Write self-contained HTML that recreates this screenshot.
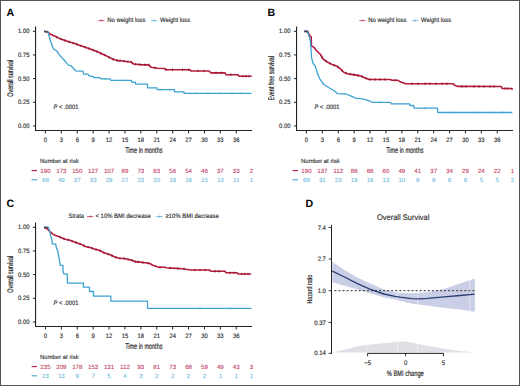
<!DOCTYPE html>
<html><head><meta charset="utf-8"><title>Figure</title>
<style>
html,body{margin:0;padding:0;background:#fff;}
body{width:520px;height:386px;overflow:hidden;font-family:"Liberation Sans", sans-serif;}
svg{display:block;}
text{text-rendering:geometricPrecision;}
</style></head><body>
<svg width="520" height="386" viewBox="0 0 520 386" font-family="&quot;Liberation Sans&quot;, sans-serif">
<rect x="0" y="0" width="520" height="386" fill="#fff"/>
<line x1="35.55" y1="26.6" x2="35.55" y2="131.05" stroke="#222" stroke-width="1.1"/>
<line x1="35" y1="130.5" x2="252" y2="130.5" stroke="#222" stroke-width="1.1"/>
<line x1="32.9" y1="125.95" x2="35.55" y2="125.95" stroke="#222" stroke-width="1.0"/>
<text x="29.4" y="128.05" font-size="6.32" text-anchor="end" fill="#333" textLength="11.39" lengthAdjust="spacingAndGlyphs" stroke="#333" stroke-width="0.16">0.00</text>
<line x1="32.9" y1="102.29" x2="35.55" y2="102.29" stroke="#222" stroke-width="1.0"/>
<text x="29.4" y="104.39" font-size="6.32" text-anchor="end" fill="#333" textLength="11.39" lengthAdjust="spacingAndGlyphs" stroke="#333" stroke-width="0.16">0.25</text>
<line x1="32.9" y1="78.62" x2="35.55" y2="78.62" stroke="#222" stroke-width="1.0"/>
<text x="29.4" y="80.72" font-size="6.32" text-anchor="end" fill="#333" textLength="11.39" lengthAdjust="spacingAndGlyphs" stroke="#333" stroke-width="0.16">0.50</text>
<line x1="32.9" y1="54.96" x2="35.55" y2="54.96" stroke="#222" stroke-width="1.0"/>
<text x="29.4" y="57.06" font-size="6.32" text-anchor="end" fill="#333" textLength="11.39" lengthAdjust="spacingAndGlyphs" stroke="#333" stroke-width="0.16">0.75</text>
<line x1="32.9" y1="31.3" x2="35.55" y2="31.3" stroke="#222" stroke-width="1.0"/>
<text x="29.4" y="33.4" font-size="6.32" text-anchor="end" fill="#333" textLength="11.39" lengthAdjust="spacingAndGlyphs" stroke="#333" stroke-width="0.16">1.00</text>
<line x1="45.45" y1="130.5" x2="45.45" y2="133.5" stroke="#222" stroke-width="1.0"/>
<text x="45.45" y="141.9" font-size="6.32" text-anchor="middle" fill="#333" textLength="3.25" lengthAdjust="spacingAndGlyphs" stroke="#333" stroke-width="0.16">0</text>
<line x1="61.35" y1="130.5" x2="61.35" y2="133.5" stroke="#222" stroke-width="1.0"/>
<text x="61.35" y="141.9" font-size="6.32" text-anchor="middle" fill="#333" textLength="3.25" lengthAdjust="spacingAndGlyphs" stroke="#333" stroke-width="0.16">3</text>
<line x1="77.25" y1="130.5" x2="77.25" y2="133.5" stroke="#222" stroke-width="1.0"/>
<text x="77.25" y="141.9" font-size="6.32" text-anchor="middle" fill="#333" textLength="3.25" lengthAdjust="spacingAndGlyphs" stroke="#333" stroke-width="0.16">6</text>
<line x1="93.15" y1="130.5" x2="93.15" y2="133.5" stroke="#222" stroke-width="1.0"/>
<text x="93.15" y="141.9" font-size="6.32" text-anchor="middle" fill="#333" textLength="3.25" lengthAdjust="spacingAndGlyphs" stroke="#333" stroke-width="0.16">9</text>
<line x1="109.05" y1="130.5" x2="109.05" y2="133.5" stroke="#222" stroke-width="1.0"/>
<text x="109.05" y="141.9" font-size="6.32" text-anchor="middle" fill="#333" textLength="6.51" lengthAdjust="spacingAndGlyphs" stroke="#333" stroke-width="0.16">12</text>
<line x1="124.95" y1="130.5" x2="124.95" y2="133.5" stroke="#222" stroke-width="1.0"/>
<text x="124.95" y="141.9" font-size="6.32" text-anchor="middle" fill="#333" textLength="6.51" lengthAdjust="spacingAndGlyphs" stroke="#333" stroke-width="0.16">15</text>
<line x1="140.85" y1="130.5" x2="140.85" y2="133.5" stroke="#222" stroke-width="1.0"/>
<text x="140.85" y="141.9" font-size="6.32" text-anchor="middle" fill="#333" textLength="6.51" lengthAdjust="spacingAndGlyphs" stroke="#333" stroke-width="0.16">18</text>
<line x1="156.75" y1="130.5" x2="156.75" y2="133.5" stroke="#222" stroke-width="1.0"/>
<text x="156.75" y="141.9" font-size="6.32" text-anchor="middle" fill="#333" textLength="6.51" lengthAdjust="spacingAndGlyphs" stroke="#333" stroke-width="0.16">21</text>
<line x1="172.65" y1="130.5" x2="172.65" y2="133.5" stroke="#222" stroke-width="1.0"/>
<text x="172.65" y="141.9" font-size="6.32" text-anchor="middle" fill="#333" textLength="6.51" lengthAdjust="spacingAndGlyphs" stroke="#333" stroke-width="0.16">24</text>
<line x1="188.55" y1="130.5" x2="188.55" y2="133.5" stroke="#222" stroke-width="1.0"/>
<text x="188.55" y="141.9" font-size="6.32" text-anchor="middle" fill="#333" textLength="6.51" lengthAdjust="spacingAndGlyphs" stroke="#333" stroke-width="0.16">27</text>
<line x1="204.45" y1="130.5" x2="204.45" y2="133.5" stroke="#222" stroke-width="1.0"/>
<text x="204.45" y="141.9" font-size="6.32" text-anchor="middle" fill="#333" textLength="6.51" lengthAdjust="spacingAndGlyphs" stroke="#333" stroke-width="0.16">30</text>
<line x1="220.35" y1="130.5" x2="220.35" y2="133.5" stroke="#222" stroke-width="1.0"/>
<text x="220.35" y="141.9" font-size="6.32" text-anchor="middle" fill="#333" textLength="6.51" lengthAdjust="spacingAndGlyphs" stroke="#333" stroke-width="0.16">33</text>
<line x1="236.25" y1="130.5" x2="236.25" y2="133.5" stroke="#222" stroke-width="1.0"/>
<text x="236.25" y="141.9" font-size="6.32" text-anchor="middle" fill="#333" textLength="6.51" lengthAdjust="spacingAndGlyphs" stroke="#333" stroke-width="0.16">36</text>
<text x="143.8" y="152.8" font-size="8.2" text-anchor="middle" fill="#222" textLength="37.3" lengthAdjust="spacingAndGlyphs" stroke="#222" stroke-width="0.17">Time in months</text>
<text x="0" y="0" font-size="8.2" text-anchor="middle" fill="#222" textLength="37" lengthAdjust="spacingAndGlyphs" transform="translate(13.2,78.2) rotate(-90)" stroke="#222" stroke-width="0.17">Overall survival</text>
<text x="6.6" y="15.7" font-size="10.6" text-anchor="start" fill="#000" font-weight="bold">A</text>
<line x1="98.3" y1="20.6" x2="104.4" y2="20.6" stroke="#b51a3a" stroke-width="0.9" opacity="0.8"/>
<line x1="101.35" y1="19.4" x2="101.35" y2="21.6" stroke="#b51a3a" stroke-width="0.7" opacity="0.8"/>
<text x="107.3" y="22.4" font-size="6.5" text-anchor="start" fill="#222" textLength="38.2" lengthAdjust="spacingAndGlyphs" stroke="#222" stroke-width="0.12">No weight loss</text>
<line x1="151.2" y1="20.6" x2="157.2" y2="20.6" stroke="#3ca2d2" stroke-width="0.9" opacity="0.8"/>
<line x1="154.2" y1="19.4" x2="154.2" y2="21.6" stroke="#3ca2d2" stroke-width="0.7" opacity="0.8"/>
<text x="160" y="22.4" font-size="6.5" text-anchor="start" fill="#222" textLength="30.2" lengthAdjust="spacingAndGlyphs" stroke="#222" stroke-width="0.12">Weight loss</text>
<text x="53.5" y="108.6" font-size="6.4" fill="#333" textLength="25.0" lengthAdjust="spacingAndGlyphs" stroke="#333" stroke-width="0.16"><tspan font-style="italic">P</tspan> &lt; .0001</text>
<line x1="44.2" y1="31.5" x2="48" y2="31.8" stroke="#5a3a4a" stroke-width="1.5"/>
<polyline points="44.2,31.2 48,32.2 50,34 55,36.2 59.4,38.4 63.7,40 68,41.6 74.8,43.6 80,45.5 86,47.5 90.2,48.9 98,52 105.5,55.4 110,57.8 113.2,59.3 116.5,60.3 118,60.6 121,60.8 128,61.7 131,62 133.7,64 140,64.6 148.7,64.9 151.2,67.3 157.5,68.3 165,68.5 165.5,69.7 190,69.8 191,71 209,71 211,72.9 225,72.9 226,74.7 238,74.7 239,76.2 251.7,76.2" fill="none" stroke="#b51a3a" stroke-width="1.6" stroke-linejoin="round"/>
<line x1="57" y1="36" x2="57" y2="38.4" stroke="#861232" stroke-width="0.9"/>
<line x1="61" y1="37.8" x2="61" y2="40.2" stroke="#861232" stroke-width="0.9"/>
<line x1="65" y1="39.28" x2="65" y2="41.68" stroke="#861232" stroke-width="0.9"/>
<line x1="69" y1="40.69" x2="69" y2="43.09" stroke="#861232" stroke-width="0.9"/>
<line x1="73" y1="41.87" x2="73" y2="44.27" stroke="#861232" stroke-width="0.9"/>
<line x1="77" y1="43.2" x2="77" y2="45.6" stroke="#861232" stroke-width="0.9"/>
<line x1="81" y1="44.63" x2="81" y2="47.03" stroke="#861232" stroke-width="0.9"/>
<line x1="85" y1="45.97" x2="85" y2="48.37" stroke="#861232" stroke-width="0.9"/>
<line x1="89" y1="47.3" x2="89" y2="49.7" stroke="#861232" stroke-width="0.9"/>
<line x1="93" y1="48.81" x2="93" y2="51.21" stroke="#861232" stroke-width="0.9"/>
<line x1="97" y1="50.4" x2="97" y2="52.8" stroke="#861232" stroke-width="0.9"/>
<line x1="101" y1="52.16" x2="101" y2="54.56" stroke="#861232" stroke-width="0.9"/>
<line x1="105" y1="53.97" x2="105" y2="56.37" stroke="#861232" stroke-width="0.9"/>
<line x1="109" y1="56.07" x2="109" y2="58.47" stroke="#861232" stroke-width="0.9"/>
<line x1="113" y1="58.01" x2="113" y2="60.41" stroke="#861232" stroke-width="0.9"/>
<line x1="117" y1="59.2" x2="117" y2="61.6" stroke="#861232" stroke-width="0.9"/>
<line x1="120" y1="59.53" x2="120" y2="61.93" stroke="#861232" stroke-width="0.9"/>
<line x1="124" y1="59.99" x2="124" y2="62.39" stroke="#861232" stroke-width="0.9"/>
<line x1="128" y1="60.5" x2="128" y2="62.9" stroke="#861232" stroke-width="0.9"/>
<line x1="131" y1="60.8" x2="131" y2="63.2" stroke="#861232" stroke-width="0.9"/>
<line x1="135.6" y1="62.98" x2="135.6" y2="65.38" stroke="#861232" stroke-width="0.9"/>
<line x1="140.6" y1="63.42" x2="140.6" y2="65.82" stroke="#861232" stroke-width="0.9"/>
<line x1="145" y1="63.57" x2="145" y2="65.97" stroke="#861232" stroke-width="0.9"/>
<line x1="148.7" y1="63.7" x2="148.7" y2="66.1" stroke="#861232" stroke-width="0.9"/>
<line x1="155" y1="66.7" x2="155" y2="69.1" stroke="#861232" stroke-width="0.9"/>
<line x1="166" y1="68.5" x2="166" y2="70.9" stroke="#861232" stroke-width="0.9"/>
<line x1="172.5" y1="68.53" x2="172.5" y2="70.93" stroke="#861232" stroke-width="0.9"/>
<line x1="182.5" y1="68.57" x2="182.5" y2="70.97" stroke="#861232" stroke-width="0.9"/>
<line x1="188.7" y1="68.59" x2="188.7" y2="70.99" stroke="#861232" stroke-width="0.9"/>
<line x1="198" y1="69.8" x2="198" y2="72.2" stroke="#861232" stroke-width="0.9"/>
<line x1="204" y1="69.8" x2="204" y2="72.2" stroke="#861232" stroke-width="0.9"/>
<line x1="216" y1="71.7" x2="216" y2="74.1" stroke="#861232" stroke-width="0.9"/>
<line x1="221" y1="71.7" x2="221" y2="74.1" stroke="#861232" stroke-width="0.9"/>
<line x1="231" y1="73.5" x2="231" y2="75.9" stroke="#861232" stroke-width="0.9"/>
<line x1="243" y1="75" x2="243" y2="77.4" stroke="#861232" stroke-width="0.9"/>
<line x1="246" y1="75" x2="246" y2="77.4" stroke="#861232" stroke-width="0.9"/>
<line x1="249" y1="75" x2="249" y2="77.4" stroke="#861232" stroke-width="0.9"/>
<polyline points="44.2,31.2 48,32.2 49.3,36.5 50.2,40 51.6,44.2 53.5,49 54.9,49.8 57.2,51.6 59.5,54.9 61.8,57.7 64.2,60 66.5,62.8 68.4,65.2 71.2,65.9 73,68 75.8,70.8 80.5,71.2 83,71.2 83.5,74 88,74.2 89,75.8 93,76.5 94,77.7 100,77.7 101,78.9 110,78.9 111,80.4 131.5,80.4 131.5,82.1 135.5,82.1 135.5,84.1 147.5,84.1 147.5,87.8 157,87.8 157,89.6 174.5,89.6 174.5,91.8 184,91.8 184,93.3 251.5,93.3" fill="none" stroke="#3ca2d2" stroke-width="1.3" stroke-linejoin="round"/>
<line x1="105" y1="78" x2="105" y2="79.8" stroke="#3ca2d2" stroke-width="0.9"/>
<line x1="125" y1="79.5" x2="125" y2="81.3" stroke="#3ca2d2" stroke-width="0.9"/>
<line x1="160" y1="88.7" x2="160" y2="90.5" stroke="#3ca2d2" stroke-width="0.9"/>
<line x1="170" y1="88.7" x2="170" y2="90.5" stroke="#3ca2d2" stroke-width="0.9"/>
<line x1="196" y1="92.4" x2="196" y2="94.2" stroke="#3ca2d2" stroke-width="0.9"/>
<line x1="208" y1="92.4" x2="208" y2="94.2" stroke="#3ca2d2" stroke-width="0.9"/>
<line x1="220" y1="92.4" x2="220" y2="94.2" stroke="#3ca2d2" stroke-width="0.9"/>
<line x1="232" y1="92.4" x2="232" y2="94.2" stroke="#3ca2d2" stroke-width="0.9"/>
<line x1="241" y1="92.4" x2="241" y2="94.2" stroke="#3ca2d2" stroke-width="0.9"/>
<line x1="44.2" y1="31.4" x2="47.8" y2="31.7" stroke="#4a3a48" stroke-width="1.3" opacity="0.85"/>
<text x="40.1" y="162.8" font-size="6.0" text-anchor="start" fill="#333" textLength="38.5" lengthAdjust="spacingAndGlyphs" stroke="#222" stroke-width="0.12">Number at risk</text>
<line x1="31.6" y1="170.6" x2="37" y2="170.6" stroke="#b51a3a" stroke-width="1.1"/>
<line x1="31.6" y1="179.8" x2="37" y2="179.8" stroke="#3ca2d2" stroke-width="1.1"/>
<text x="45.45" y="172.7" font-size="6.15" text-anchor="middle" fill="#c0335a" stroke="#c0335a" stroke-width="0.08">190</text>
<text x="45.45" y="181.9" font-size="6.15" text-anchor="middle" fill="#66b4e0" stroke="#66b4e0" stroke-width="0.05">68</text>
<text x="61.35" y="172.7" font-size="6.15" text-anchor="middle" fill="#c0335a" stroke="#c0335a" stroke-width="0.08">173</text>
<text x="61.35" y="181.9" font-size="6.15" text-anchor="middle" fill="#66b4e0" stroke="#66b4e0" stroke-width="0.05">49</text>
<text x="77.25" y="172.7" font-size="6.15" text-anchor="middle" fill="#c0335a" stroke="#c0335a" stroke-width="0.08">150</text>
<text x="77.25" y="181.9" font-size="6.15" text-anchor="middle" fill="#66b4e0" stroke="#66b4e0" stroke-width="0.05">37</text>
<text x="93.15" y="172.7" font-size="6.15" text-anchor="middle" fill="#c0335a" stroke="#c0335a" stroke-width="0.08">127</text>
<text x="93.15" y="181.9" font-size="6.15" text-anchor="middle" fill="#66b4e0" stroke="#66b4e0" stroke-width="0.05">33</text>
<text x="109.05" y="172.7" font-size="6.15" text-anchor="middle" fill="#c0335a" stroke="#c0335a" stroke-width="0.08">107</text>
<text x="109.05" y="181.9" font-size="6.15" text-anchor="middle" fill="#66b4e0" stroke="#66b4e0" stroke-width="0.05">29</text>
<text x="124.95" y="172.7" font-size="6.15" text-anchor="middle" fill="#c0335a" stroke="#c0335a" stroke-width="0.08">89</text>
<text x="124.95" y="181.9" font-size="6.15" text-anchor="middle" fill="#66b4e0" stroke="#66b4e0" stroke-width="0.05">27</text>
<text x="140.85" y="172.7" font-size="6.15" text-anchor="middle" fill="#c0335a" stroke="#c0335a" stroke-width="0.08">73</text>
<text x="140.85" y="181.9" font-size="6.15" text-anchor="middle" fill="#66b4e0" stroke="#66b4e0" stroke-width="0.05">23</text>
<text x="156.75" y="172.7" font-size="6.15" text-anchor="middle" fill="#c0335a" stroke="#c0335a" stroke-width="0.08">63</text>
<text x="156.75" y="181.9" font-size="6.15" text-anchor="middle" fill="#66b4e0" stroke="#66b4e0" stroke-width="0.05">20</text>
<text x="172.65" y="172.7" font-size="6.15" text-anchor="middle" fill="#c0335a" stroke="#c0335a" stroke-width="0.08">56</text>
<text x="172.65" y="181.9" font-size="6.15" text-anchor="middle" fill="#66b4e0" stroke="#66b4e0" stroke-width="0.05">19</text>
<text x="188.55" y="172.7" font-size="6.15" text-anchor="middle" fill="#c0335a" stroke="#c0335a" stroke-width="0.08">54</text>
<text x="188.55" y="181.9" font-size="6.15" text-anchor="middle" fill="#66b4e0" stroke="#66b4e0" stroke-width="0.05">16</text>
<text x="204.45" y="172.7" font-size="6.15" text-anchor="middle" fill="#c0335a" stroke="#c0335a" stroke-width="0.08">46</text>
<text x="204.45" y="181.9" font-size="6.15" text-anchor="middle" fill="#66b4e0" stroke="#66b4e0" stroke-width="0.05">15</text>
<text x="220.35" y="172.7" font-size="6.15" text-anchor="middle" fill="#c0335a" stroke="#c0335a" stroke-width="0.08">37</text>
<text x="220.35" y="181.9" font-size="6.15" text-anchor="middle" fill="#66b4e0" stroke="#66b4e0" stroke-width="0.05">13</text>
<text x="236.25" y="172.7" font-size="6.15" text-anchor="middle" fill="#c0335a" stroke="#c0335a" stroke-width="0.08">33</text>
<text x="236.25" y="181.9" font-size="6.15" text-anchor="middle" fill="#66b4e0" stroke="#66b4e0" stroke-width="0.05">11</text>
<text x="251.55" y="172.7" font-size="6.15" text-anchor="middle" fill="#c0335a" stroke="#c0335a" stroke-width="0.08">2</text>
<text x="251.55" y="181.9" font-size="6.15" text-anchor="middle" fill="#66b4e0" stroke="#66b4e0" stroke-width="0.05">1</text>
<line x1="296.55" y1="26.6" x2="296.55" y2="131.05" stroke="#222" stroke-width="1.1"/>
<line x1="296" y1="130.5" x2="513" y2="130.5" stroke="#222" stroke-width="1.1"/>
<line x1="293.9" y1="125.95" x2="296.55" y2="125.95" stroke="#222" stroke-width="1.0"/>
<text x="290.4" y="128.05" font-size="6.32" text-anchor="end" fill="#333" textLength="11.39" lengthAdjust="spacingAndGlyphs" stroke="#333" stroke-width="0.16">0.00</text>
<line x1="293.9" y1="102.29" x2="296.55" y2="102.29" stroke="#222" stroke-width="1.0"/>
<text x="290.4" y="104.39" font-size="6.32" text-anchor="end" fill="#333" textLength="11.39" lengthAdjust="spacingAndGlyphs" stroke="#333" stroke-width="0.16">0.25</text>
<line x1="293.9" y1="78.62" x2="296.55" y2="78.62" stroke="#222" stroke-width="1.0"/>
<text x="290.4" y="80.72" font-size="6.32" text-anchor="end" fill="#333" textLength="11.39" lengthAdjust="spacingAndGlyphs" stroke="#333" stroke-width="0.16">0.50</text>
<line x1="293.9" y1="54.96" x2="296.55" y2="54.96" stroke="#222" stroke-width="1.0"/>
<text x="290.4" y="57.06" font-size="6.32" text-anchor="end" fill="#333" textLength="11.39" lengthAdjust="spacingAndGlyphs" stroke="#333" stroke-width="0.16">0.75</text>
<line x1="293.9" y1="31.3" x2="296.55" y2="31.3" stroke="#222" stroke-width="1.0"/>
<text x="290.4" y="33.4" font-size="6.32" text-anchor="end" fill="#333" textLength="11.39" lengthAdjust="spacingAndGlyphs" stroke="#333" stroke-width="0.16">1.00</text>
<line x1="306.45" y1="130.5" x2="306.45" y2="133.5" stroke="#222" stroke-width="1.0"/>
<text x="306.45" y="141.9" font-size="6.32" text-anchor="middle" fill="#333" textLength="3.25" lengthAdjust="spacingAndGlyphs" stroke="#333" stroke-width="0.16">0</text>
<line x1="322.35" y1="130.5" x2="322.35" y2="133.5" stroke="#222" stroke-width="1.0"/>
<text x="322.35" y="141.9" font-size="6.32" text-anchor="middle" fill="#333" textLength="3.25" lengthAdjust="spacingAndGlyphs" stroke="#333" stroke-width="0.16">3</text>
<line x1="338.25" y1="130.5" x2="338.25" y2="133.5" stroke="#222" stroke-width="1.0"/>
<text x="338.25" y="141.9" font-size="6.32" text-anchor="middle" fill="#333" textLength="3.25" lengthAdjust="spacingAndGlyphs" stroke="#333" stroke-width="0.16">6</text>
<line x1="354.15" y1="130.5" x2="354.15" y2="133.5" stroke="#222" stroke-width="1.0"/>
<text x="354.15" y="141.9" font-size="6.32" text-anchor="middle" fill="#333" textLength="3.25" lengthAdjust="spacingAndGlyphs" stroke="#333" stroke-width="0.16">9</text>
<line x1="370.05" y1="130.5" x2="370.05" y2="133.5" stroke="#222" stroke-width="1.0"/>
<text x="370.05" y="141.9" font-size="6.32" text-anchor="middle" fill="#333" textLength="6.51" lengthAdjust="spacingAndGlyphs" stroke="#333" stroke-width="0.16">12</text>
<line x1="385.95" y1="130.5" x2="385.95" y2="133.5" stroke="#222" stroke-width="1.0"/>
<text x="385.95" y="141.9" font-size="6.32" text-anchor="middle" fill="#333" textLength="6.51" lengthAdjust="spacingAndGlyphs" stroke="#333" stroke-width="0.16">15</text>
<line x1="401.85" y1="130.5" x2="401.85" y2="133.5" stroke="#222" stroke-width="1.0"/>
<text x="401.85" y="141.9" font-size="6.32" text-anchor="middle" fill="#333" textLength="6.51" lengthAdjust="spacingAndGlyphs" stroke="#333" stroke-width="0.16">18</text>
<line x1="417.75" y1="130.5" x2="417.75" y2="133.5" stroke="#222" stroke-width="1.0"/>
<text x="417.75" y="141.9" font-size="6.32" text-anchor="middle" fill="#333" textLength="6.51" lengthAdjust="spacingAndGlyphs" stroke="#333" stroke-width="0.16">21</text>
<line x1="433.65" y1="130.5" x2="433.65" y2="133.5" stroke="#222" stroke-width="1.0"/>
<text x="433.65" y="141.9" font-size="6.32" text-anchor="middle" fill="#333" textLength="6.51" lengthAdjust="spacingAndGlyphs" stroke="#333" stroke-width="0.16">24</text>
<line x1="449.55" y1="130.5" x2="449.55" y2="133.5" stroke="#222" stroke-width="1.0"/>
<text x="449.55" y="141.9" font-size="6.32" text-anchor="middle" fill="#333" textLength="6.51" lengthAdjust="spacingAndGlyphs" stroke="#333" stroke-width="0.16">27</text>
<line x1="465.45" y1="130.5" x2="465.45" y2="133.5" stroke="#222" stroke-width="1.0"/>
<text x="465.45" y="141.9" font-size="6.32" text-anchor="middle" fill="#333" textLength="6.51" lengthAdjust="spacingAndGlyphs" stroke="#333" stroke-width="0.16">30</text>
<line x1="481.35" y1="130.5" x2="481.35" y2="133.5" stroke="#222" stroke-width="1.0"/>
<text x="481.35" y="141.9" font-size="6.32" text-anchor="middle" fill="#333" textLength="6.51" lengthAdjust="spacingAndGlyphs" stroke="#333" stroke-width="0.16">33</text>
<line x1="497.25" y1="130.5" x2="497.25" y2="133.5" stroke="#222" stroke-width="1.0"/>
<text x="497.25" y="141.9" font-size="6.32" text-anchor="middle" fill="#333" textLength="6.51" lengthAdjust="spacingAndGlyphs" stroke="#333" stroke-width="0.16">36</text>
<text x="404.8" y="152.8" font-size="8.2" text-anchor="middle" fill="#222" textLength="37.3" lengthAdjust="spacingAndGlyphs" stroke="#222" stroke-width="0.17">Time in months</text>
<text x="0" y="0" font-size="8.2" text-anchor="middle" fill="#222" textLength="44.5" lengthAdjust="spacingAndGlyphs" transform="translate(274.2,78.2) rotate(-90)" stroke="#222" stroke-width="0.17">Event free survival</text>
<text x="267.6" y="15.7" font-size="10.6" text-anchor="start" fill="#000" font-weight="bold">B</text>
<line x1="359.3" y1="20.6" x2="365.4" y2="20.6" stroke="#b51a3a" stroke-width="0.9" opacity="0.8"/>
<line x1="362.35" y1="19.4" x2="362.35" y2="21.6" stroke="#b51a3a" stroke-width="0.7" opacity="0.8"/>
<text x="368.3" y="22.4" font-size="6.5" text-anchor="start" fill="#222" textLength="38.2" lengthAdjust="spacingAndGlyphs" stroke="#222" stroke-width="0.12">No weight loss</text>
<line x1="412.2" y1="20.6" x2="418.2" y2="20.6" stroke="#3ca2d2" stroke-width="0.9" opacity="0.8"/>
<line x1="415.2" y1="19.4" x2="415.2" y2="21.6" stroke="#3ca2d2" stroke-width="0.7" opacity="0.8"/>
<text x="421" y="22.4" font-size="6.5" text-anchor="start" fill="#222" textLength="30.2" lengthAdjust="spacingAndGlyphs" stroke="#222" stroke-width="0.12">Weight loss</text>
<text x="314.5" y="108.6" font-size="6.4" fill="#333" textLength="25.0" lengthAdjust="spacingAndGlyphs" stroke="#333" stroke-width="0.16"><tspan font-style="italic">P</tspan> &lt; .0001</text>
<line x1="304.3" y1="31.5" x2="308.1" y2="31.8" stroke="#5a3a4a" stroke-width="1.5"/>
<polyline points="304.3,31.2 307.4,31.2 309.7,35.7 311.2,36.8 311.4,46 313.7,47.1 316,50 318.2,52.2 320.5,54.5 323.1,59 327.7,62.3 332.3,64.6 336.9,66.2 340,68.5 343.8,72.3 347.7,73.8 353.1,74.6 357.7,75.4 361.5,76.2 364.6,77.7 369.2,79.5 390,79.5 392,80.3 398,80.3 400.3,81.8 405.5,83.7 453.4,83.7 454,85 457.9,86.4 501.3,86.5 502,88.5 512,88.5 512,90" fill="none" stroke="#b51a3a" stroke-width="1.6" stroke-linejoin="round"/>
<line x1="322" y1="55.9" x2="322" y2="58.3" stroke="#861232" stroke-width="0.9"/>
<line x1="326" y1="59.88" x2="326" y2="62.28" stroke="#861232" stroke-width="0.9"/>
<line x1="330" y1="62.25" x2="330" y2="64.65" stroke="#861232" stroke-width="0.9"/>
<line x1="334" y1="63.99" x2="334" y2="66.39" stroke="#861232" stroke-width="0.9"/>
<line x1="338" y1="65.82" x2="338" y2="68.22" stroke="#861232" stroke-width="0.9"/>
<line x1="342" y1="69.3" x2="342" y2="71.7" stroke="#861232" stroke-width="0.9"/>
<line x1="346" y1="71.95" x2="346" y2="74.35" stroke="#861232" stroke-width="0.9"/>
<line x1="350" y1="72.94" x2="350" y2="75.34" stroke="#861232" stroke-width="0.9"/>
<line x1="354" y1="73.56" x2="354" y2="75.96" stroke="#861232" stroke-width="0.9"/>
<line x1="358" y1="74.26" x2="358" y2="76.66" stroke="#861232" stroke-width="0.9"/>
<line x1="362" y1="75.24" x2="362" y2="77.64" stroke="#861232" stroke-width="0.9"/>
<line x1="366" y1="77.05" x2="366" y2="79.45" stroke="#861232" stroke-width="0.9"/>
<line x1="370" y1="78.3" x2="370" y2="80.7" stroke="#861232" stroke-width="0.9"/>
<line x1="375" y1="78.3" x2="375" y2="80.7" stroke="#861232" stroke-width="0.9"/>
<line x1="380" y1="78.3" x2="380" y2="80.7" stroke="#861232" stroke-width="0.9"/>
<line x1="385" y1="78.3" x2="385" y2="80.7" stroke="#861232" stroke-width="0.9"/>
<line x1="395" y1="79.1" x2="395" y2="81.5" stroke="#861232" stroke-width="0.9"/>
<line x1="412" y1="82.5" x2="412" y2="84.9" stroke="#861232" stroke-width="0.9"/>
<line x1="418" y1="82.5" x2="418" y2="84.9" stroke="#861232" stroke-width="0.9"/>
<line x1="425" y1="82.5" x2="425" y2="84.9" stroke="#861232" stroke-width="0.9"/>
<line x1="430" y1="82.5" x2="430" y2="84.9" stroke="#861232" stroke-width="0.9"/>
<line x1="436" y1="82.5" x2="436" y2="84.9" stroke="#861232" stroke-width="0.9"/>
<line x1="442" y1="82.5" x2="442" y2="84.9" stroke="#861232" stroke-width="0.9"/>
<line x1="447" y1="82.5" x2="447" y2="84.9" stroke="#861232" stroke-width="0.9"/>
<line x1="462" y1="85.21" x2="462" y2="87.61" stroke="#861232" stroke-width="0.9"/>
<line x1="466" y1="85.22" x2="466" y2="87.62" stroke="#861232" stroke-width="0.9"/>
<line x1="474" y1="85.24" x2="474" y2="87.64" stroke="#861232" stroke-width="0.9"/>
<line x1="479" y1="85.25" x2="479" y2="87.65" stroke="#861232" stroke-width="0.9"/>
<line x1="484" y1="85.26" x2="484" y2="87.66" stroke="#861232" stroke-width="0.9"/>
<line x1="490" y1="85.27" x2="490" y2="87.67" stroke="#861232" stroke-width="0.9"/>
<line x1="494" y1="85.28" x2="494" y2="87.68" stroke="#861232" stroke-width="0.9"/>
<line x1="505" y1="87.3" x2="505" y2="89.7" stroke="#861232" stroke-width="0.9"/>
<line x1="508" y1="87.3" x2="508" y2="89.7" stroke="#861232" stroke-width="0.9"/>
<polyline points="304.3,31.2 307.4,31.2 309.1,36.3 310.5,42 311.6,57.9 313.2,63.5 315,65.8 316.5,70 318.1,75.2 320,79 321.9,82.2 324,84.5 326.5,86.2 330.4,88.5 334.2,90.8 337.3,93.6 345.8,94 351.2,96.2 355.8,98.2 362.7,98.8 368.8,100.6 371.9,102.3 390.5,102.3 391.2,103.9 409.5,103.9 409.8,105.5 413.7,105.5 414,108.2 437.5,108.2 437.8,112.5 512.3,112.5" fill="none" stroke="#3ca2d2" stroke-width="1.3" stroke-linejoin="round"/>
<line x1="380" y1="101.4" x2="380" y2="103.2" stroke="#3ca2d2" stroke-width="0.9"/>
<line x1="400" y1="103" x2="400" y2="104.8" stroke="#3ca2d2" stroke-width="0.9"/>
<line x1="425" y1="107.3" x2="425" y2="109.1" stroke="#3ca2d2" stroke-width="0.9"/>
<line x1="450" y1="111.6" x2="450" y2="113.4" stroke="#3ca2d2" stroke-width="0.9"/>
<line x1="475" y1="111.6" x2="475" y2="113.4" stroke="#3ca2d2" stroke-width="0.9"/>
<line x1="490" y1="111.6" x2="490" y2="113.4" stroke="#3ca2d2" stroke-width="0.9"/>
<line x1="503" y1="111.6" x2="503" y2="113.4" stroke="#3ca2d2" stroke-width="0.9"/>
<line x1="304.3" y1="31.4" x2="307.9" y2="31.7" stroke="#4a3a48" stroke-width="1.3" opacity="0.85"/>
<text x="301.1" y="162.8" font-size="6.0" text-anchor="start" fill="#333" textLength="38.5" lengthAdjust="spacingAndGlyphs" stroke="#222" stroke-width="0.12">Number at risk</text>
<line x1="292.6" y1="170.6" x2="298" y2="170.6" stroke="#b51a3a" stroke-width="1.1"/>
<line x1="292.6" y1="179.8" x2="298" y2="179.8" stroke="#3ca2d2" stroke-width="1.1"/>
<text x="306.45" y="172.7" font-size="6.15" text-anchor="middle" fill="#c0335a" stroke="#c0335a" stroke-width="0.08">190</text>
<text x="306.45" y="181.9" font-size="6.15" text-anchor="middle" fill="#66b4e0" stroke="#66b4e0" stroke-width="0.05">68</text>
<text x="322.35" y="172.7" font-size="6.15" text-anchor="middle" fill="#c0335a" stroke="#c0335a" stroke-width="0.08">137</text>
<text x="322.35" y="181.9" font-size="6.15" text-anchor="middle" fill="#66b4e0" stroke="#66b4e0" stroke-width="0.05">31</text>
<text x="338.25" y="172.7" font-size="6.15" text-anchor="middle" fill="#c0335a" stroke="#c0335a" stroke-width="0.08">112</text>
<text x="338.25" y="181.9" font-size="6.15" text-anchor="middle" fill="#66b4e0" stroke="#66b4e0" stroke-width="0.05">23</text>
<text x="354.15" y="172.7" font-size="6.15" text-anchor="middle" fill="#c0335a" stroke="#c0335a" stroke-width="0.08">86</text>
<text x="354.15" y="181.9" font-size="6.15" text-anchor="middle" fill="#66b4e0" stroke="#66b4e0" stroke-width="0.05">19</text>
<text x="370.05" y="172.7" font-size="6.15" text-anchor="middle" fill="#c0335a" stroke="#c0335a" stroke-width="0.08">68</text>
<text x="370.05" y="181.9" font-size="6.15" text-anchor="middle" fill="#66b4e0" stroke="#66b4e0" stroke-width="0.05">16</text>
<text x="385.95" y="172.7" font-size="6.15" text-anchor="middle" fill="#c0335a" stroke="#c0335a" stroke-width="0.08">60</text>
<text x="385.95" y="181.9" font-size="6.15" text-anchor="middle" fill="#66b4e0" stroke="#66b4e0" stroke-width="0.05">13</text>
<text x="401.85" y="172.7" font-size="6.15" text-anchor="middle" fill="#c0335a" stroke="#c0335a" stroke-width="0.08">49</text>
<text x="401.85" y="181.9" font-size="6.15" text-anchor="middle" fill="#66b4e0" stroke="#66b4e0" stroke-width="0.05">10</text>
<text x="417.75" y="172.7" font-size="6.15" text-anchor="middle" fill="#c0335a" stroke="#c0335a" stroke-width="0.08">41</text>
<text x="417.75" y="181.9" font-size="6.15" text-anchor="middle" fill="#66b4e0" stroke="#66b4e0" stroke-width="0.05">8</text>
<text x="433.65" y="172.7" font-size="6.15" text-anchor="middle" fill="#c0335a" stroke="#c0335a" stroke-width="0.08">37</text>
<text x="433.65" y="181.9" font-size="6.15" text-anchor="middle" fill="#66b4e0" stroke="#66b4e0" stroke-width="0.05">8</text>
<text x="449.55" y="172.7" font-size="6.15" text-anchor="middle" fill="#c0335a" stroke="#c0335a" stroke-width="0.08">34</text>
<text x="449.55" y="181.9" font-size="6.15" text-anchor="middle" fill="#66b4e0" stroke="#66b4e0" stroke-width="0.05">6</text>
<text x="465.45" y="172.7" font-size="6.15" text-anchor="middle" fill="#c0335a" stroke="#c0335a" stroke-width="0.08">29</text>
<text x="465.45" y="181.9" font-size="6.15" text-anchor="middle" fill="#66b4e0" stroke="#66b4e0" stroke-width="0.05">6</text>
<text x="481.35" y="172.7" font-size="6.15" text-anchor="middle" fill="#c0335a" stroke="#c0335a" stroke-width="0.08">24</text>
<text x="481.35" y="181.9" font-size="6.15" text-anchor="middle" fill="#66b4e0" stroke="#66b4e0" stroke-width="0.05">5</text>
<text x="497.25" y="172.7" font-size="6.15" text-anchor="middle" fill="#c0335a" stroke="#c0335a" stroke-width="0.08">22</text>
<text x="497.25" y="181.9" font-size="6.15" text-anchor="middle" fill="#66b4e0" stroke="#66b4e0" stroke-width="0.05">5</text>
<text x="512.55" y="172.7" font-size="6.15" text-anchor="middle" fill="#c0335a" stroke="#c0335a" stroke-width="0.08">1</text>
<text x="512.55" y="181.9" font-size="6.15" text-anchor="middle" fill="#66b4e0" stroke="#66b4e0" stroke-width="0.05">2</text>
<line x1="35.55" y1="222.6" x2="35.55" y2="327.05" stroke="#222" stroke-width="1.1"/>
<line x1="35" y1="326.5" x2="252" y2="326.5" stroke="#222" stroke-width="1.1"/>
<line x1="32.9" y1="321.95" x2="35.55" y2="321.95" stroke="#222" stroke-width="1.0"/>
<text x="29.4" y="324.05" font-size="6.32" text-anchor="end" fill="#333" textLength="11.39" lengthAdjust="spacingAndGlyphs" stroke="#333" stroke-width="0.16">0.00</text>
<line x1="32.9" y1="298.29" x2="35.55" y2="298.29" stroke="#222" stroke-width="1.0"/>
<text x="29.4" y="300.39" font-size="6.32" text-anchor="end" fill="#333" textLength="11.39" lengthAdjust="spacingAndGlyphs" stroke="#333" stroke-width="0.16">0.25</text>
<line x1="32.9" y1="274.62" x2="35.55" y2="274.62" stroke="#222" stroke-width="1.0"/>
<text x="29.4" y="276.73" font-size="6.32" text-anchor="end" fill="#333" textLength="11.39" lengthAdjust="spacingAndGlyphs" stroke="#333" stroke-width="0.16">0.50</text>
<line x1="32.9" y1="250.96" x2="35.55" y2="250.96" stroke="#222" stroke-width="1.0"/>
<text x="29.4" y="253.06" font-size="6.32" text-anchor="end" fill="#333" textLength="11.39" lengthAdjust="spacingAndGlyphs" stroke="#333" stroke-width="0.16">0.75</text>
<line x1="32.9" y1="227.3" x2="35.55" y2="227.3" stroke="#222" stroke-width="1.0"/>
<text x="29.4" y="229.4" font-size="6.32" text-anchor="end" fill="#333" textLength="11.39" lengthAdjust="spacingAndGlyphs" stroke="#333" stroke-width="0.16">1.00</text>
<line x1="45.45" y1="326.5" x2="45.45" y2="329.5" stroke="#222" stroke-width="1.0"/>
<text x="45.45" y="337.9" font-size="6.32" text-anchor="middle" fill="#333" textLength="3.25" lengthAdjust="spacingAndGlyphs" stroke="#333" stroke-width="0.16">0</text>
<line x1="61.35" y1="326.5" x2="61.35" y2="329.5" stroke="#222" stroke-width="1.0"/>
<text x="61.35" y="337.9" font-size="6.32" text-anchor="middle" fill="#333" textLength="3.25" lengthAdjust="spacingAndGlyphs" stroke="#333" stroke-width="0.16">3</text>
<line x1="77.25" y1="326.5" x2="77.25" y2="329.5" stroke="#222" stroke-width="1.0"/>
<text x="77.25" y="337.9" font-size="6.32" text-anchor="middle" fill="#333" textLength="3.25" lengthAdjust="spacingAndGlyphs" stroke="#333" stroke-width="0.16">6</text>
<line x1="93.15" y1="326.5" x2="93.15" y2="329.5" stroke="#222" stroke-width="1.0"/>
<text x="93.15" y="337.9" font-size="6.32" text-anchor="middle" fill="#333" textLength="3.25" lengthAdjust="spacingAndGlyphs" stroke="#333" stroke-width="0.16">9</text>
<line x1="109.05" y1="326.5" x2="109.05" y2="329.5" stroke="#222" stroke-width="1.0"/>
<text x="109.05" y="337.9" font-size="6.32" text-anchor="middle" fill="#333" textLength="6.51" lengthAdjust="spacingAndGlyphs" stroke="#333" stroke-width="0.16">12</text>
<line x1="124.95" y1="326.5" x2="124.95" y2="329.5" stroke="#222" stroke-width="1.0"/>
<text x="124.95" y="337.9" font-size="6.32" text-anchor="middle" fill="#333" textLength="6.51" lengthAdjust="spacingAndGlyphs" stroke="#333" stroke-width="0.16">15</text>
<line x1="140.85" y1="326.5" x2="140.85" y2="329.5" stroke="#222" stroke-width="1.0"/>
<text x="140.85" y="337.9" font-size="6.32" text-anchor="middle" fill="#333" textLength="6.51" lengthAdjust="spacingAndGlyphs" stroke="#333" stroke-width="0.16">18</text>
<line x1="156.75" y1="326.5" x2="156.75" y2="329.5" stroke="#222" stroke-width="1.0"/>
<text x="156.75" y="337.9" font-size="6.32" text-anchor="middle" fill="#333" textLength="6.51" lengthAdjust="spacingAndGlyphs" stroke="#333" stroke-width="0.16">21</text>
<line x1="172.65" y1="326.5" x2="172.65" y2="329.5" stroke="#222" stroke-width="1.0"/>
<text x="172.65" y="337.9" font-size="6.32" text-anchor="middle" fill="#333" textLength="6.51" lengthAdjust="spacingAndGlyphs" stroke="#333" stroke-width="0.16">24</text>
<line x1="188.55" y1="326.5" x2="188.55" y2="329.5" stroke="#222" stroke-width="1.0"/>
<text x="188.55" y="337.9" font-size="6.32" text-anchor="middle" fill="#333" textLength="6.51" lengthAdjust="spacingAndGlyphs" stroke="#333" stroke-width="0.16">27</text>
<line x1="204.45" y1="326.5" x2="204.45" y2="329.5" stroke="#222" stroke-width="1.0"/>
<text x="204.45" y="337.9" font-size="6.32" text-anchor="middle" fill="#333" textLength="6.51" lengthAdjust="spacingAndGlyphs" stroke="#333" stroke-width="0.16">30</text>
<line x1="220.35" y1="326.5" x2="220.35" y2="329.5" stroke="#222" stroke-width="1.0"/>
<text x="220.35" y="337.9" font-size="6.32" text-anchor="middle" fill="#333" textLength="6.51" lengthAdjust="spacingAndGlyphs" stroke="#333" stroke-width="0.16">33</text>
<line x1="236.25" y1="326.5" x2="236.25" y2="329.5" stroke="#222" stroke-width="1.0"/>
<text x="236.25" y="337.9" font-size="6.32" text-anchor="middle" fill="#333" textLength="6.51" lengthAdjust="spacingAndGlyphs" stroke="#333" stroke-width="0.16">36</text>
<text x="143.8" y="348.8" font-size="8.2" text-anchor="middle" fill="#222" textLength="37.3" lengthAdjust="spacingAndGlyphs" stroke="#222" stroke-width="0.17">Time in months</text>
<text x="0" y="0" font-size="8.2" text-anchor="middle" fill="#222" textLength="37" lengthAdjust="spacingAndGlyphs" transform="translate(13.2,274.2) rotate(-90)" stroke="#222" stroke-width="0.17">Overall survival</text>
<text x="6.6" y="207.2" font-size="10.6" text-anchor="start" fill="#000" font-weight="bold">C</text>
<text x="68.6" y="218.4" font-size="6.5" text-anchor="start" fill="#222" textLength="15.4" lengthAdjust="spacingAndGlyphs" stroke="#222" stroke-width="0.12">Strata</text>
<line x1="87.1" y1="216.6" x2="93.2" y2="216.6" stroke="#b51a3a" stroke-width="0.9" opacity="0.8"/>
<line x1="90.15" y1="215.4" x2="90.15" y2="217.6" stroke="#b51a3a" stroke-width="0.7" opacity="0.8"/>
<text x="95.5" y="218.4" font-size="6.5" text-anchor="start" fill="#222" textLength="55.2" lengthAdjust="spacingAndGlyphs" stroke="#222" stroke-width="0.12">&lt; 10% BMI decrease</text>
<line x1="156.4" y1="216.6" x2="162.5" y2="216.6" stroke="#3ca2d2" stroke-width="0.9" opacity="0.8"/>
<line x1="159.45" y1="215.4" x2="159.45" y2="217.6" stroke="#3ca2d2" stroke-width="0.7" opacity="0.8"/>
<text x="165.6" y="218.4" font-size="6.5" text-anchor="start" fill="#222" textLength="53.1" lengthAdjust="spacingAndGlyphs" stroke="#222" stroke-width="0.12">≥10% BMI decrease</text>
<text x="53.5" y="304.6" font-size="6.4" fill="#333" textLength="25.0" lengthAdjust="spacingAndGlyphs" stroke="#333" stroke-width="0.16"><tspan font-style="italic">P</tspan> &lt; .0001</text>
<line x1="44" y1="227.5" x2="47.8" y2="227.8" stroke="#5a3a4a" stroke-width="1.5"/>
<polyline points="44,227.2 47.1,228.7 50,231.6 52.9,234.1 55.7,235.5 59.9,237 65,239.2 70,240.3 74.4,241.9 81.7,244.6 86,246.7 90,247.5 95.2,249.3 99.8,250.5 103.9,252.8 110.2,254.7 114.8,257 119.4,258.2 124.1,258.5 128.7,259.5 132.7,260.5 135,261.6 140,262.1 145.2,262.7 149.8,263.5 152.7,265.3 156.7,266.4 157.9,267.2 164.8,267.2 166,267.8 175.8,268.4 182.7,268.7 186.1,269.3 190.7,270 209.4,270 211.1,271.3 225,271.3 226,272.8 237.1,272.8 238,274 251.2,274" fill="none" stroke="#b51a3a" stroke-width="1.6" stroke-linejoin="round"/>
<line x1="60" y1="235.84" x2="60" y2="238.24" stroke="#861232" stroke-width="0.9"/>
<line x1="64" y1="237.57" x2="64" y2="239.97" stroke="#861232" stroke-width="0.9"/>
<line x1="68" y1="238.66" x2="68" y2="241.06" stroke="#861232" stroke-width="0.9"/>
<line x1="72" y1="239.83" x2="72" y2="242.23" stroke="#861232" stroke-width="0.9"/>
<line x1="76" y1="241.29" x2="76" y2="243.69" stroke="#861232" stroke-width="0.9"/>
<line x1="80" y1="242.77" x2="80" y2="245.17" stroke="#861232" stroke-width="0.9"/>
<line x1="84" y1="244.52" x2="84" y2="246.92" stroke="#861232" stroke-width="0.9"/>
<line x1="88" y1="245.9" x2="88" y2="248.3" stroke="#861232" stroke-width="0.9"/>
<line x1="92" y1="246.99" x2="92" y2="249.39" stroke="#861232" stroke-width="0.9"/>
<line x1="96" y1="248.31" x2="96" y2="250.71" stroke="#861232" stroke-width="0.9"/>
<line x1="100" y1="249.41" x2="100" y2="251.81" stroke="#861232" stroke-width="0.9"/>
<line x1="104" y1="251.63" x2="104" y2="254.03" stroke="#861232" stroke-width="0.9"/>
<line x1="108" y1="252.84" x2="108" y2="255.24" stroke="#861232" stroke-width="0.9"/>
<line x1="112" y1="254.4" x2="112" y2="256.8" stroke="#861232" stroke-width="0.9"/>
<line x1="116" y1="256.11" x2="116" y2="258.51" stroke="#861232" stroke-width="0.9"/>
<line x1="120" y1="257.04" x2="120" y2="259.44" stroke="#861232" stroke-width="0.9"/>
<line x1="124" y1="257.29" x2="124" y2="259.69" stroke="#861232" stroke-width="0.9"/>
<line x1="128" y1="258.15" x2="128" y2="260.55" stroke="#861232" stroke-width="0.9"/>
<line x1="132" y1="259.12" x2="132" y2="261.52" stroke="#861232" stroke-width="0.9"/>
<line x1="135" y1="260.4" x2="135" y2="262.8" stroke="#861232" stroke-width="0.9"/>
<line x1="138" y1="260.7" x2="138" y2="263.1" stroke="#861232" stroke-width="0.9"/>
<line x1="143" y1="261.25" x2="143" y2="263.65" stroke="#861232" stroke-width="0.9"/>
<line x1="148" y1="261.99" x2="148" y2="264.39" stroke="#861232" stroke-width="0.9"/>
<line x1="160" y1="266" x2="160" y2="268.4" stroke="#861232" stroke-width="0.9"/>
<line x1="170" y1="266.84" x2="170" y2="269.24" stroke="#861232" stroke-width="0.9"/>
<line x1="178" y1="267.3" x2="178" y2="269.7" stroke="#861232" stroke-width="0.9"/>
<line x1="184" y1="267.73" x2="184" y2="270.13" stroke="#861232" stroke-width="0.9"/>
<line x1="195" y1="268.8" x2="195" y2="271.2" stroke="#861232" stroke-width="0.9"/>
<line x1="200" y1="268.8" x2="200" y2="271.2" stroke="#861232" stroke-width="0.9"/>
<line x1="205" y1="268.8" x2="205" y2="271.2" stroke="#861232" stroke-width="0.9"/>
<line x1="215" y1="270.1" x2="215" y2="272.5" stroke="#861232" stroke-width="0.9"/>
<line x1="219" y1="270.1" x2="219" y2="272.5" stroke="#861232" stroke-width="0.9"/>
<line x1="230" y1="271.6" x2="230" y2="274" stroke="#861232" stroke-width="0.9"/>
<line x1="234" y1="271.6" x2="234" y2="274" stroke="#861232" stroke-width="0.9"/>
<line x1="242" y1="272.8" x2="242" y2="275.2" stroke="#861232" stroke-width="0.9"/>
<line x1="245" y1="272.8" x2="245" y2="275.2" stroke="#861232" stroke-width="0.9"/>
<line x1="248" y1="272.8" x2="248" y2="275.2" stroke="#861232" stroke-width="0.9"/>
<polyline points="44,227.2 48.3,227.2 49.8,231.4 50.6,235.7 51.8,239.5 52.5,244.2 55.7,244.2 56.4,247.7 57.6,250.5 58,252.3 59.2,258.9 60.3,265.4 63,265.4 63,270.8 63.9,274.1 67.4,274.1 67.4,283.1 83.4,283.1 83.4,287.2 89.5,287.2 89.5,291.5 93.5,291.5 93.5,296.2 110.8,296.2 110.8,301.2 147.5,301.2 147.5,308.4 251.4,308.4" fill="none" stroke="#3ca2d2" stroke-width="1.3" stroke-linejoin="round"/>
<line x1="200" y1="307.5" x2="200" y2="309.3" stroke="#3ca2d2" stroke-width="0.9"/>
<line x1="230" y1="307.5" x2="230" y2="309.3" stroke="#3ca2d2" stroke-width="0.9"/>
<line x1="44" y1="227.4" x2="47.6" y2="227.7" stroke="#4a3a48" stroke-width="1.3" opacity="0.85"/>
<text x="40.1" y="358.8" font-size="6.0" text-anchor="start" fill="#333" textLength="38.5" lengthAdjust="spacingAndGlyphs" stroke="#222" stroke-width="0.12">Number at risk</text>
<line x1="31.6" y1="366.6" x2="37" y2="366.6" stroke="#b51a3a" stroke-width="1.1"/>
<line x1="31.6" y1="375.8" x2="37" y2="375.8" stroke="#3ca2d2" stroke-width="1.1"/>
<text x="45.45" y="368.7" font-size="6.15" text-anchor="middle" fill="#c0335a" stroke="#c0335a" stroke-width="0.08">235</text>
<text x="45.45" y="377.9" font-size="6.15" text-anchor="middle" fill="#66b4e0" stroke="#66b4e0" stroke-width="0.05">23</text>
<text x="61.35" y="368.7" font-size="6.15" text-anchor="middle" fill="#c0335a" stroke="#c0335a" stroke-width="0.08">209</text>
<text x="61.35" y="377.9" font-size="6.15" text-anchor="middle" fill="#66b4e0" stroke="#66b4e0" stroke-width="0.05">13</text>
<text x="77.25" y="368.7" font-size="6.15" text-anchor="middle" fill="#c0335a" stroke="#c0335a" stroke-width="0.08">178</text>
<text x="77.25" y="377.9" font-size="6.15" text-anchor="middle" fill="#66b4e0" stroke="#66b4e0" stroke-width="0.05">9</text>
<text x="93.15" y="368.7" font-size="6.15" text-anchor="middle" fill="#c0335a" stroke="#c0335a" stroke-width="0.08">153</text>
<text x="93.15" y="377.9" font-size="6.15" text-anchor="middle" fill="#66b4e0" stroke="#66b4e0" stroke-width="0.05">7</text>
<text x="109.05" y="368.7" font-size="6.15" text-anchor="middle" fill="#c0335a" stroke="#c0335a" stroke-width="0.08">131</text>
<text x="109.05" y="377.9" font-size="6.15" text-anchor="middle" fill="#66b4e0" stroke="#66b4e0" stroke-width="0.05">5</text>
<text x="124.95" y="368.7" font-size="6.15" text-anchor="middle" fill="#c0335a" stroke="#c0335a" stroke-width="0.08">112</text>
<text x="124.95" y="377.9" font-size="6.15" text-anchor="middle" fill="#66b4e0" stroke="#66b4e0" stroke-width="0.05">4</text>
<text x="140.85" y="368.7" font-size="6.15" text-anchor="middle" fill="#c0335a" stroke="#c0335a" stroke-width="0.08">93</text>
<text x="140.85" y="377.9" font-size="6.15" text-anchor="middle" fill="#66b4e0" stroke="#66b4e0" stroke-width="0.05">3</text>
<text x="156.75" y="368.7" font-size="6.15" text-anchor="middle" fill="#c0335a" stroke="#c0335a" stroke-width="0.08">81</text>
<text x="156.75" y="377.9" font-size="6.15" text-anchor="middle" fill="#66b4e0" stroke="#66b4e0" stroke-width="0.05">2</text>
<text x="172.65" y="368.7" font-size="6.15" text-anchor="middle" fill="#c0335a" stroke="#c0335a" stroke-width="0.08">73</text>
<text x="172.65" y="377.9" font-size="6.15" text-anchor="middle" fill="#66b4e0" stroke="#66b4e0" stroke-width="0.05">2</text>
<text x="188.55" y="368.7" font-size="6.15" text-anchor="middle" fill="#c0335a" stroke="#c0335a" stroke-width="0.08">68</text>
<text x="188.55" y="377.9" font-size="6.15" text-anchor="middle" fill="#66b4e0" stroke="#66b4e0" stroke-width="0.05">2</text>
<text x="204.45" y="368.7" font-size="6.15" text-anchor="middle" fill="#c0335a" stroke="#c0335a" stroke-width="0.08">59</text>
<text x="204.45" y="377.9" font-size="6.15" text-anchor="middle" fill="#66b4e0" stroke="#66b4e0" stroke-width="0.05">2</text>
<text x="220.35" y="368.7" font-size="6.15" text-anchor="middle" fill="#c0335a" stroke="#c0335a" stroke-width="0.08">49</text>
<text x="220.35" y="377.9" font-size="6.15" text-anchor="middle" fill="#66b4e0" stroke="#66b4e0" stroke-width="0.05">1</text>
<text x="236.25" y="368.7" font-size="6.15" text-anchor="middle" fill="#c0335a" stroke="#c0335a" stroke-width="0.08">43</text>
<text x="236.25" y="377.9" font-size="6.15" text-anchor="middle" fill="#66b4e0" stroke="#66b4e0" stroke-width="0.05">1</text>
<text x="251.55" y="368.7" font-size="6.15" text-anchor="middle" fill="#c0335a" stroke="#c0335a" stroke-width="0.08">3</text>
<text x="251.55" y="377.9" font-size="6.15" text-anchor="middle" fill="#66b4e0" stroke="#66b4e0" stroke-width="0.05">1</text>
<text x="305.6" y="207.1" font-size="10.6" text-anchor="start" fill="#000" font-weight="bold">D</text>
<text x="403.2" y="220.2" font-size="8.1" text-anchor="middle" fill="#262626" textLength="52.5" lengthAdjust="spacingAndGlyphs" stroke="#222" stroke-width="0.12">Overall Survival</text>
<path d="M332.5,352.6 L345,349.5 L356,346.8 L366,345 L380,343.6 L392,342.4 L400,341.6 L406,341.6 L412,342.6 L418,344 L430,346.3 L445,348.8 L460,351 L476.5,352.6 Z" fill="#dfdfe6"/>
<path d="M332.3,261.8 L343.5,269.4 L356.9,277.2 L370.4,283.6 L383.8,289.4 L395,292.2 L400,292.8 L411,293.2 L427.7,292.2 L444,288.9 L460.4,283.2 L474.8,278.4 L474.8,311.8 L460.4,309.6 L444,307.7 L427.7,305.8 L411,303.4 L400,300.8 L395,299.5 L383.8,297.2 L370.4,293.4 L356.9,289.3 L343.5,285.5 L332.3,282.2 Z" fill="#cacee6"/>
<line x1="366.4" y1="262" x2="366.4" y2="353" stroke="#fff" stroke-width="0.8" opacity="0.45"/>
<line x1="397.5" y1="262" x2="397.5" y2="353" stroke="#fff" stroke-width="0.8" opacity="0.7"/>
<line x1="417.7" y1="262" x2="417.7" y2="353" stroke="#fff" stroke-width="0.8" opacity="0.7"/>
<line x1="469.8" y1="262" x2="469.8" y2="353" stroke="#fff" stroke-width="0.8" opacity="0.7"/>
<line x1="334.4" y1="290.6" x2="475" y2="290.6" stroke="#505050" stroke-width="1.3" stroke-dasharray="2.0,2.06"/>
<path d="M332.3,271.2 L343.5,276.5 L356.9,283.3 L370.4,289.3 L383.8,294 L395,296.3 L400,297.2 L411.3,298.6 L420,298.8 L427.7,298.4 L444,296.9 L460.4,295.5 L474.8,294.2" fill="none" stroke="#2a3f72" stroke-width="1.35" stroke-linejoin="round"/>
<line x1="331.5" y1="224.9" x2="331.5" y2="353.9" stroke="#222" stroke-width="1"/>
<line x1="328.6" y1="227.5" x2="331.5" y2="227.5" stroke="#222" stroke-width="0.9"/>
<text x="325.9" y="229.6" font-size="6.43" text-anchor="end" fill="#333" textLength="8.27" lengthAdjust="spacingAndGlyphs" stroke="#333" stroke-width="0.16">7.4</text>
<line x1="328.6" y1="259" x2="331.5" y2="259" stroke="#222" stroke-width="0.9"/>
<text x="325.9" y="261.1" font-size="6.43" text-anchor="end" fill="#333" textLength="8.27" lengthAdjust="spacingAndGlyphs" stroke="#333" stroke-width="0.16">2.7</text>
<line x1="328.6" y1="290.7" x2="331.5" y2="290.7" stroke="#222" stroke-width="0.9"/>
<text x="325.9" y="292.8" font-size="6.43" text-anchor="end" fill="#333" textLength="8.27" lengthAdjust="spacingAndGlyphs" stroke="#333" stroke-width="0.16">1.0</text>
<line x1="328.6" y1="322.5" x2="331.5" y2="322.5" stroke="#222" stroke-width="0.9"/>
<text x="325.9" y="324.6" font-size="6.43" text-anchor="end" fill="#333" textLength="11.58" lengthAdjust="spacingAndGlyphs" stroke="#333" stroke-width="0.16">0.37</text>
<line x1="328.6" y1="353.3" x2="331.5" y2="353.3" stroke="#222" stroke-width="0.9"/>
<text x="325.9" y="355.4" font-size="6.43" text-anchor="end" fill="#333" textLength="11.58" lengthAdjust="spacingAndGlyphs" stroke="#333" stroke-width="0.16">0.14</text>
<text x="0" y="0" font-size="7.2" text-anchor="middle" fill="#222" textLength="28.8" lengthAdjust="spacingAndGlyphs" transform="translate(312.3,289.2) rotate(-90)" stroke="#222" stroke-width="0.17">Hazard ratio</text>
<line x1="367.5" y1="353.4" x2="443.6" y2="353.4" stroke="#222" stroke-width="1"/>
<line x1="367.6" y1="353.4" x2="367.6" y2="356.4" stroke="#222" stroke-width="0.9"/>
<text x="367.6" y="364.5" font-size="6.6" text-anchor="middle" fill="#333" textLength="6.84" lengthAdjust="spacingAndGlyphs" stroke="#333" stroke-width="0.16">−5</text>
<line x1="405.6" y1="353.4" x2="405.6" y2="356.4" stroke="#222" stroke-width="0.9"/>
<text x="405.6" y="364.5" font-size="6.6" text-anchor="middle" fill="#333" textLength="3.34" lengthAdjust="spacingAndGlyphs" stroke="#333" stroke-width="0.16">0</text>
<line x1="443.5" y1="353.4" x2="443.5" y2="356.4" stroke="#222" stroke-width="0.9"/>
<text x="443.5" y="364.5" font-size="6.6" text-anchor="middle" fill="#333" textLength="3.34" lengthAdjust="spacingAndGlyphs" stroke="#333" stroke-width="0.16">5</text>
<text x="405.3" y="376.2" font-size="7.8" text-anchor="middle" fill="#222" textLength="36.9" lengthAdjust="spacingAndGlyphs" stroke="#222" stroke-width="0.17">% BMI change</text>
<rect x="0.5" y="0.5" width="519" height="385" fill="none" stroke="#555" stroke-width="1"/>
</svg>
</body></html>
